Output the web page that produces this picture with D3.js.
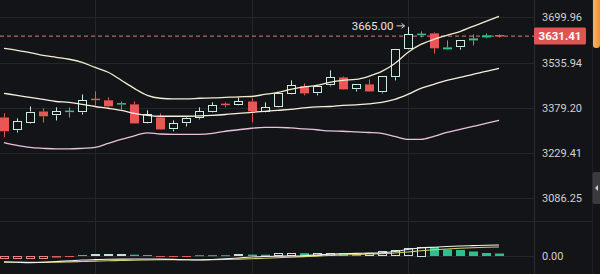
<!DOCTYPE html>
<html>
<head>
<meta charset="utf-8">
<script src="https://cdn.jsdelivr.net/npm/d3@7"></script>
<style>
html, body { margin: 0; padding: 0; background: #131417; overflow: hidden; }
svg { display: block; font-family: Roboto, Arial, sans-serif; }
</style>
</head>
<body>
<script>
// candles
const opens  = [3347, 3304, 3330, 3367, 3354, 3364, 3364, 3408, 3405, 3389.5, 3391, 3327, 3347, 3307, 3327, 3344, 3364, 3391, 3388, 3401, 3364, 3381, 3425, 3453, 3428.6, 3456, 3484, 3442.5, 3459.8, 3432, 3484, 3583.3, 3634, 3641.2, 3583.3, 3590.4, 3615.7, 3626.6, 3632.5];
const highs  = [3361, 3344, 3384, 3378, 3381, 3381, 3425, 3435.5, 3415, 3401, 3401, 3371, 3360.6, 3337, 3347, 3381, 3398, 3398, 3415, 3411.6, 3398, 3432, 3473.6, 3463, 3456.3, 3508.7, 3487.6, 3461, 3477, 3489, 3585, 3665, 3648.4, 3644.8, 3615.7, 3617, 3637.5, 3641.2, 3637.5];
const lows   = [3281, 3297, 3327, 3330, 3337, 3347, 3357, 3388, 3383, 3374, 3326, 3326, 3306, 3300.6, 3317, 3340.6, 3363, 3381, 3387, 3330.5, 3363, 3380, 3424, 3422, 3422, 3452.8, 3441, 3435.5, 3434, 3428.6, 3473.6, 3582, 3626.6, 3568.8, 3582, 3582.5, 3597.6, 3623, 3626.6];
const closes = [3301, 3334, 3367, 3351, 3367.5, 3367.5, 3405, 3405, 3384.4, 3393, 3327, 3357, 3307, 3327, 3344, 3367.5, 3388, 3388, 3401, 3367.5, 3381, 3428.6, 3456, 3428.6, 3453, 3484, 3442.5, 3459.8, 3435.5, 3487.6, 3583.3, 3637.5, 3637.5, 3587, 3590.4, 3615.7, 3623, 3634, 3631.41];

// bollinger bands
const bollUpper = [3587, 3580, 3572, 3562, 3555, 3548, 3537, 3519, 3502, 3474, 3446, 3422, 3412, 3410, 3410, 3412, 3413, 3415, 3417, 3418, 3425, 3432, 3442.5, 3451, 3456, 3467, 3474, 3477, 3488, 3505, 3533, 3572, 3601, 3619, 3634, 3648, 3667, 3685, 3704];
const bollMid   = [3429, 3422, 3415, 3408, 3401, 3398, 3391, 3384, 3378, 3371, 3361, 3354, 3351, 3351, 3351, 3352, 3354, 3357, 3361, 3364, 3367.5, 3371, 3374, 3379, 3383, 3384, 3388, 3389.5, 3393, 3398, 3408, 3425, 3446, 3460, 3474, 3484, 3495, 3505, 3516];
const bollLower = [3264, 3255, 3248, 3245, 3243, 3243, 3245, 3248, 3261, 3274, 3286, 3296, 3292, 3291, 3291, 3291, 3294, 3301, 3306, 3311, 3314, 3314, 3312, 3309, 3306, 3302, 3301, 3299, 3297, 3294, 3284, 3274, 3274, 3284, 3297, 3307, 3317, 3327, 3337];

// macd pane
const macdHist = [-2.6, -2.8, -3.0, -3.2, -1.6, -1.0, 1.0, 1.6, 1.9, 2.1, 1.3, 1.0, -0.8, -0.8, -0.7, 0.8, 0.8, 0.8, 1.6, 1.4, 1.3, 2.6, 3.2, 2.8, 3.0, 3.4, 3.0, 2.8, 3.3, 4.8, 6.2, 8.0, 9.5, 9.0, 6.5, 6.0, 4.5, 3.0, 2.5];
const macdDif  = [-5.7, -6.2, -6.6, -6.2, -5.5, -4.8, -4.0, -3.6, -3.3, -3.1, -3.0, -3.0, -3.1, -3.4, -3.8, -4.0, -3.5, -2.8, -2.0, -1.0, -0.5, -0.2, 0, 0.3, 1.0, 1.8, 2.2, 2.6, 2.9, 3.3, 4.5, 6.5, 8.0, 8.8, 9.5, 10.0, 10.4, 10.8, 11.0];
const macdDea  = [-6.2, -6.3, -6.4, -6.4, -6.2, -5.9, -5.5, -5.1, -4.8, -4.5, -4.2, -4.0, -3.8, -3.7, -3.7, -3.7, -3.6, -3.4, -3.1, -2.7, -2.2, -1.7, -1.2, -0.6, -0.1, 0.5, 1.0, 1.5, 2.0, 2.4, 3.0, 4.0, 5.2, 6.2, 7.0, 7.7, 8.3, 8.7, 9.0];

const priceTicks = [3699.96, 3535.94, 3379.20, 3229.41, 3086.25];
const macdTicks = [0];
const lastPrice = 3631.41;
const peakPrice = 3665.00;
const gridCandles = [7, 19, 31];

const width = 600, height = 274;
const plotRight = 534;
const bg = "#131417";
const upCol = "#c9ecdd", upSolid = "#33c08d", downCol = "#e85656";

var svg = d3.select("body").append("svg")
    .attr("width", width).attr("height", height);

const idx = d3.range(closes.length);
var x = d3.scaleLinear().domain([0, closes.length - 1]).range([4, 499]);
var y = d3.scaleLog().domain([3086.25, 3699.96]).range([198.4, 17.4]);
var ym = d3.scaleLinear().domain([-6, 35]).range([262, 221]);
const bodyW = 9;
const cx = i => Math.round(x(i)) + 0.5;

// grid
var grid = svg.append("g").attr("stroke", "#25262a").attr("stroke-width", 1);
grid.selectAll(".vg").data(gridCandles).enter().append("line")
    .attr("x1", d => cx(d)).attr("x2", d => cx(d))
    .attr("y1", 0).attr("y2", height);
grid.selectAll(".hg").data(priceTicks).enter().append("line")
    .attr("x1", 0).attr("x2", plotRight)
    .attr("y1", d => Math.round(y(d)) + 0.5).attr("y2", d => Math.round(y(d)) + 0.5);
grid.append("line").attr("x1", 0).attr("x2", 592)
    .attr("y1", Math.round(ym(35)) + 0.5).attr("y2", Math.round(ym(35)) + 0.5);
grid.append("line").attr("x1", 0).attr("x2", plotRight)
    .attr("y1", Math.round(ym(0)) + 0.5).attr("y2", Math.round(ym(0)) + 0.5);
grid.append("line").attr("x1", plotRight + 0.5).attr("x2", plotRight + 0.5)
    .attr("y1", 0).attr("y2", height).attr("stroke", "#2c2d31");
grid.append("line").attr("x1", 592.5).attr("x2", 592.5)
    .attr("y1", 0).attr("y2", height).attr("stroke", "#1e1f23");

// axes
var yAxis = d3.axisRight(y).tickValues(priceTicks).tickFormat(d3.format(".2f")).tickSize(0).tickPadding(8);
var yAxisM = d3.axisRight(ym).tickValues(macdTicks).tickFormat(d3.format(".2f")).tickSize(0).tickPadding(8);
[[yAxis, "y-axis"], [yAxisM, "m-axis"]].forEach(([ax, id]) => {
    var a = svg.append("g").attr("id", id)
        .attr("transform", "translate(" + plotRight + ",0)")
        .call(ax);
    a.select(".domain").remove();
    a.selectAll("text").attr("fill", "#cfd0d2").attr("font-size", "11px")
        .attr("font-family", "Roboto, Arial, sans-serif");
});

// current price dashed line
svg.append("line")
    .attr("x1", 0).attr("x2", plotRight)
    .attr("y1", y(lastPrice)).attr("y2", y(lastPrice))
    .attr("stroke", "#b9665f").attr("stroke-width", 1.3)
    .attr("stroke-dasharray", "4,3");

// candles
var candle = svg.append("g").selectAll("g").data(idx).enter().append("g");
candle.each(function (i) {
    var o = opens[i], c = closes[i], hi = highs[i], lo = lows[i];
    var up = c >= o;
    var top = y(Math.max(o, c)), bot = y(Math.min(o, c));
    var h = bot - top;
    var thin = h < 3;
    var col = up ? (thin ? upSolid : upCol) : downCol;
    var g = d3.select(this);
    g.append("line").attr("x1", cx(i)).attr("x2", cx(i))
        .attr("y1", y(hi)).attr("y2", top).attr("stroke", col);
    g.append("line").attr("x1", cx(i)).attr("x2", cx(i))
        .attr("y1", bot).attr("y2", y(lo)).attr("stroke", col);
    if (up && !thin) {
        g.append("rect").attr("x", cx(i) - 4).attr("y", Math.round(top) + 0.5)
            .attr("width", bodyW - 1).attr("height", Math.max(1, Math.round(h) - 1))
            .attr("fill", bg).attr("stroke", col);
    } else {
        g.append("rect").attr("x", cx(i) - 4.5).attr("y", top - (h < 1.5 ? 0.75 : 0))
            .attr("width", bodyW).attr("height", Math.max(1.5, h))
            .attr("fill", col);
    }
});

// bollinger lines
var line = d3.line().x((d, i) => x(i)).y(d => y(d)).curve(d3.curveMonotoneX);
[[bollUpper, "#f3ecd2"], [bollMid, "#f6f1dc"], [bollLower, "#e9c3dd"]].forEach(([s, c]) => {
    svg.append("path").datum(s).attr("d", line)
        .attr("fill", "none").attr("stroke", c).attr("stroke-width", 1.3);
});

// macd histogram
svg.append("g").selectAll("rect").data(macdHist).enter().append("rect")
    .each(function (v, i) {
        var prev = i ? macdHist[i - 1] : v;
        var hollow = i === 0 || (Math.sign(v) === Math.sign(prev) && Math.abs(v) > Math.abs(prev));
        var col = v >= 0 ? (hollow ? "#bfe6d5" : "#2fbf8a") : (hollow ? "#e88484" : "#e05a5a");
        var y0 = ym(0), y1 = ym(v);
        var t = Math.min(y0, y1), hh = Math.max(1, Math.abs(y1 - y0));
        var r = d3.select(this);
        if (hollow) {
            r.attr("x", cx(i) - 4).attr("y", Math.round(t) + 0.5)
             .attr("width", bodyW - 1).attr("height", Math.max(1, Math.round(hh) - 1))
             .attr("fill", "none").attr("stroke", col);
        } else {
            r.attr("x", cx(i) - 4.5).attr("y", t).attr("width", bodyW).attr("height", hh)
             .attr("fill", col);
        }
    });
var mline = d3.line().x((d, i) => x(i)).y(d => ym(d)).curve(d3.curveMonotoneX);
[[macdDea, "#d6d36c"], [macdDif, "#f2f2f2"]].forEach(([s, c]) => {
    svg.append("path").datum(s).attr("d", mline)
        .attr("fill", "none").attr("stroke", c).attr("stroke-width", 1.1);
});

// peak label
var pk = highs.indexOf(peakPrice);
svg.append("text").text(peakPrice.toFixed(2))
    .attr("x", cx(pk) - 15).attr("y", y(peakPrice) + 3)
    .attr("text-anchor", "end").attr("font-size", "11.5px").attr("fill", "#e6e6e6");
svg.append("path")
    .attr("d", "M" + (cx(pk) - 12) + "," + (y(peakPrice) - 1) + "h8m-3,-2.5l3,2.5l-3,2.5")
    .attr("fill", "none").attr("stroke", "#d8d8d8").attr("stroke-width", 1);

// last price tag
svg.append("rect")
    .attr("x", plotRight).attr("y", y(lastPrice) - 8.5)
    .attr("width", 52).attr("height", 17).attr("rx", 1.5)
    .attr("fill", "#e05454");
svg.append("text").text(lastPrice.toFixed(2))
    .attr("x", plotRight + 26).attr("y", y(lastPrice) + 4)
    .attr("text-anchor", "middle").attr("font-size", "11.5px")
    .attr("font-weight", "bold").attr("fill", "#ffffff");

// scroll handle and side tab
var grad = svg.append("defs").append("linearGradient").attr("id", "og")
    .attr("x1", 0).attr("x2", 1);
grad.append("stop").attr("offset", 0).attr("stop-color", "#f6b46a");
grad.append("stop").attr("offset", 1).attr("stop-color", "#ef8f33");
svg.append("rect").attr("x", 593).attr("y", -4).attr("width", 7).attr("height", 52)
    .attr("rx", 3).attr("fill", "url(#og)");
svg.append("rect").attr("x", 592.5).attr("y", 172).attr("width", 9).attr("height", 32)
    .attr("rx", 2).attr("fill", "#3a3b41");
svg.append("path").attr("d", "M595,188l3,-3v6z").attr("fill", "#cfcfcf");
</script>
</body>
</html>
